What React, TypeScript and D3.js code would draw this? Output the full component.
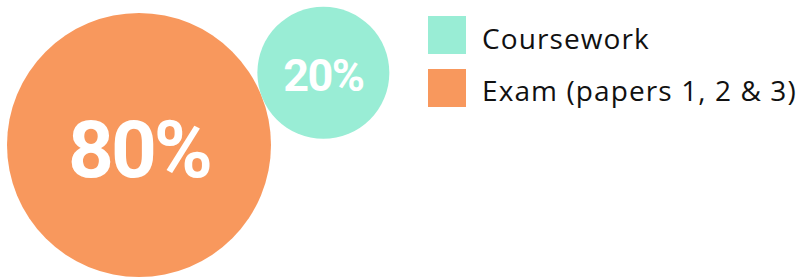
import React from 'react';
import * as d3 from 'd3';

// data
const categories = ['Exam (papers 1, 2 & 3)', 'Coursework'];
const values = [80, 20];
const colors = ['#F8985D', '#99EDD5'];
const legendOrder = ['Coursework', 'Exam (papers 1, 2 & 3)'];

const width = 797;
const height = 277;

const App: React.FC = () => {
  // radius proportional to sqrt(value)
  const r = d3.scaleSqrt().domain([0, 80]).range([0, 132]);

  // big bubble, then the small one tangent to it
  const cx0 = 139;
  const cy0 = 145;
  const angle = Math.atan2(-71.5, 182.5);
  const bubbles = values.map((v, i) => ({ name: categories[i], value: v, color: colors[i], r: r(v), x: cx0, y: cy0 }));
  const d = bubbles[0].r + bubbles[1].r;
  bubbles[1].x = cx0 + d * Math.cos(angle);
  bubbles[1].y = cy0 + d * Math.sin(angle);

  // label size follows the radius
  const fontSize = d3.scaleLinear().domain([r(20), r(80)]).range([45, 80]);
  const color = d3.scaleOrdinal<string, string>().domain(categories).range(colors);

  return (
    <div style={{ position: 'absolute', left: 0, top: 0 }}>
      <svg width={width} height={height} style={{ display: 'block' }}>
        {bubbles.map((b) => (
          <g key={b.name}>
            <circle cx={b.x} cy={b.y} r={b.r} fill={b.color} />
            <text
              x={b.x}
              y={b.y + fontSize(b.r) * 0.4}
              textAnchor="middle"
              fill="#fff"
              fontFamily="Roboto"
              fontWeight="bold"
              fontSize={fontSize(b.r)}
              letterSpacing={b.value > 50 ? -3 : -1.5}
            >
              {b.value}%
            </text>
          </g>
        ))}
        {legendOrder.map((name, i) => (
          <g key={name} transform={`translate(428, ${16 + i * 53})`}>
            <rect width={38} height={38} fill={color(name)} />
            <text x={54} y={33 - i * 1.5} fontFamily="Open Sans" fontSize={28} letterSpacing={1.1} fill="#111">
              {name}
            </text>
          </g>
        ))}
      </svg>
    </div>
  );
};

export default App;
